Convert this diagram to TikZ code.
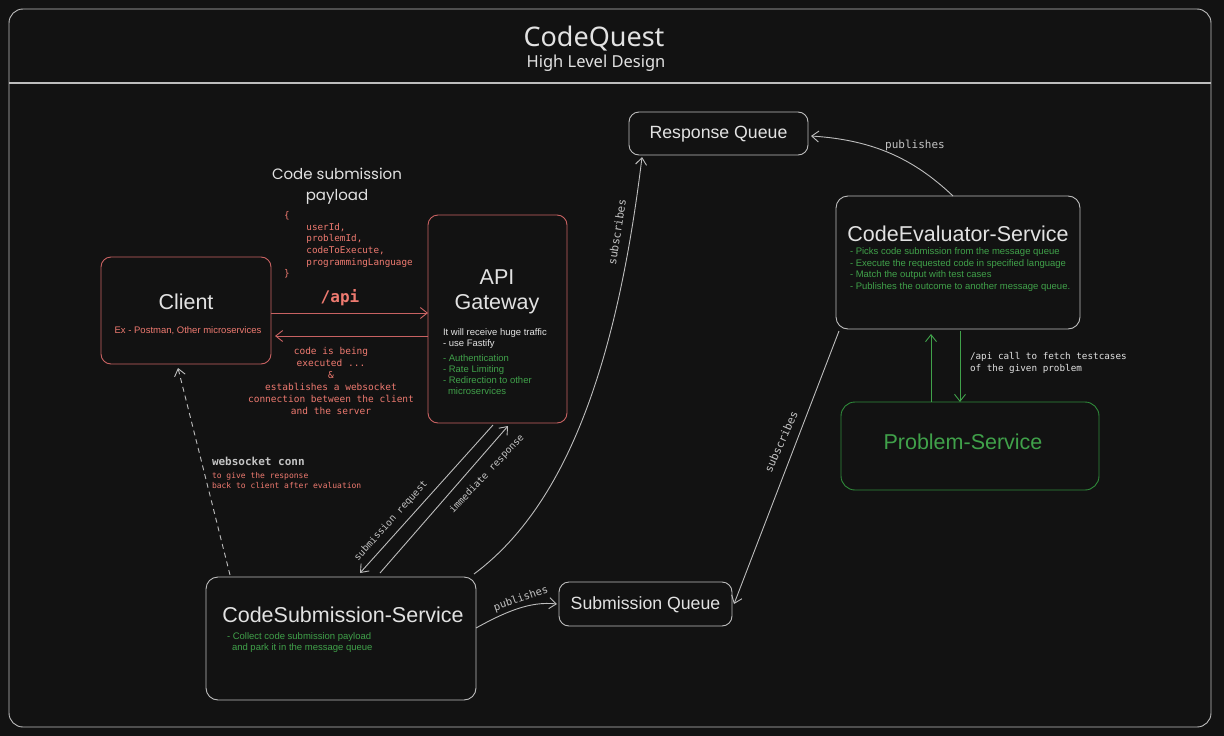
\documentclass[tikz,border=0pt]{standalone}
\usepackage{fontspec}
\setmainfont{Liberation Sans}
\newfontfamily\monof{DejaVu Sans Mono}
\newfontfamily\titlef{Noto Sans}
\newfontfamily\handf{Poppins}
\usetikzlibrary{arrows.meta}
\definecolor{bgc}{HTML}{121212}
\definecolor{gline}{HTML}{BDBDBD}
\definecolor{gtext}{HTML}{E2E2E2}
\definecolor{glab}{HTML}{C4C4C4}
\definecolor{rline}{HTML}{C86262}
\definecolor{rtext}{HTML}{EE7A70}
\definecolor{grn}{HTML}{40A14A}
\definecolor{gline2}{HTML}{2F8A3A}
\begin{document}
\begin{tikzpicture}[x=1pt,y=-1pt,
  every node/.style={inner sep=0pt,outer sep=0pt},
  box/.style={draw=gline,line width=0.9pt,rounded corners=10pt,anchor=center},
  rbox/.style={box,draw=rline},
  pbox/.style={box,draw=gline2,rounded corners=14pt},
  bigt/.style={text=gtext,font=\fontsize{21.5}{25}\selectfont},
  qt/.style={text=gtext,font=\fontsize{17.7}{21}\selectfont},
  smallw/.style={text=gtext,font=\fontsize{9.5}{11}\selectfont,align=left},
  smallg/.style={text=grn,font=\fontsize{9.5}{11.7}\selectfont,align=left},
  redmono/.style={text=rtext,font=\monof\fontsize{9.3}{11.6}\selectfont},
  glabel/.style={text=glab,font=\monof\fontsize{11}{13}\selectfont},
  slabel/.style={text=glab,font=\monof\fontsize{9.6}{12}\selectfont},
  arr/.style={draw=gline,line width=0.9pt,-{Straight Barb[length=7pt,width=11pt]}},
  rarr/.style={arr,draw=rline},
  garr/.style={arr,draw=grn}
]
\useasboundingbox (0,0) rectangle (1224,736);
\fill[bgc] (0,0) rectangle (1224,736);

% frame
\node[box,rounded corners=14pt,minimum width=1202pt,minimum height=718pt] (frame) at (610,368) {};
\draw[gline,line width=1.2pt] (frame.west |- 0,83) -- (frame.east |- 0,83);
\node[text=gtext,font=\titlef\fontsize{27}{30}\selectfont] (title) at (594,38.5) {CodeQuest};
\node[text=gtext,font=\titlef\fontsize{16.5}{19}\selectfont] (subtitle) at (596,63.5) {High Level Design};

% boxes
\node[rbox,minimum width=170pt,minimum height=107pt] (client) at (186,310.5) {};
\node[rbox,minimum width=139pt,minimum height=208pt] (gw) at (497.5,319) {};
\node[box,minimum width=270pt,minimum height=123pt,rounded corners=12pt] (csub) at (341,638.5) {};
\node[box,minimum width=173pt,minimum height=44pt] (sq) at (645.5,604) {};
\node[box,minimum width=179pt,minimum height=43pt] (rq) at (718.5,133.5) {};
\node[box,minimum width=244pt,minimum height=133pt,rounded corners=12pt] (ev) at (958,262.5) {};
\node[pbox,minimum width=258pt,minimum height=88pt] (ps) at (970,446) {};

% box texts
\node[bigt] (clientT) at (186,302) {Client};
\node[text=rtext,font=\fontsize{9.5}{11}\selectfont] (clientS) at (188,331) {Ex - Postman, Other microservices};

\node[bigt,align=center,font=\fontsize{21.5}{25}\selectfont] (gwT) at (497,291.5) {API\\Gateway};
\node[smallw,anchor=west] (gwS) at (443,338.5) {It will receive huge traffic\\- use Fastify};
\node[smallg,font=\fontsize{9.5}{11}\selectfont,anchor=west] (gwG) at (443,374.5) {- Authentication\\- Rate Limiting\\- Redirection to other\\\hspace*{5pt}microservices};

\node[bigt] (csubT) at (343,615) {CodeSubmission-Service};
\node[smallg,font=\fontsize{9.5}{11}\selectfont,anchor=west] (csubG) at (227,642.5) {- Collect code submission payload\\\hspace*{5pt}and park it in the message queue};

\node[qt] (sqT) at (645.5,604.5) {Submission Queue};
\node[qt] (rqT) at (718.5,134.5) {Response Queue};

\node[bigt] (evT) at (958,234) {CodeEvaluator-Service};
\node[smallg,anchor=west] (evG) at (850,269.5) {- Picks code submission from the message queue\\- Execute the requested code in specified language\\- Match the output with test cases\\- Publishes the outcome to another message queue.};

\node[text=grn,font=\fontsize{21.5}{25}\selectfont] (psT) at (963,442) {Problem-Service};

% payload annotation
\node[text=gtext,font=\handf\fontsize{15}{21}\selectfont,align=center] (payT) at (337,186) {Code submission\\payload};
\node[redmono,align=left,anchor=west] (payload) at (284,245) {\{\\\hspace*{22.4pt}userId,\\\hspace*{22.4pt}problemId,\\\hspace*{22.4pt}codeToExecute,\\\hspace*{22.4pt}programmingLanguage\\\}};

% client <-> gateway
\draw[rarr] ([yshift=-2.5pt]client.east) -- ([yshift=6pt]gw.west);
\draw[rarr] ([yshift=-17pt]gw.west) -- ([xshift=4pt,yshift=-25.5pt]client.east);
\node[text=rtext,font=\monof\bfseries\fontsize{16}{18}\selectfont] (apiL) at (340,297.5) {/api};
\node[redmono,font=\monof\fontsize{9.5}{12}\selectfont,align=center] (execL) at (331,381) {code is being\\executed ...\\\&\\establishes a websocket\\connection between the client\\and the server};

% websocket
\draw[arr,dashed,dash pattern=on 5pt off 4pt] ([xshift=-111pt,yshift=2pt]csub.north) -- ([xshift=-8pt,yshift=-4pt]client.south);
\node[text=glab,font=\monof\bfseries\fontsize{11}{13}\selectfont,anchor=west] (wsL) at (212,461) {websocket conn};
\node[text=rtext,font=\monof\fontsize{8}{10}\selectfont,align=left,anchor=west] (wsS) at (212,481) {to give the response\\back to client after evaluation};

% gateway <-> submission service
\draw[arr] ([xshift=-4.5pt,yshift=-2pt]gw.south) -- ([xshift=19pt,yshift=4pt]csub.north);
\draw[arr] ([xshift=39pt,yshift=4pt]csub.north) -- ([xshift=10.5pt,yshift=-3pt]gw.south);
\node[slabel,rotate=48] (srL) at (391,521) {submission request};
\node[slabel,rotate=47] (irL) at (487,474) {immediate response};

% submission service -> response queue
\draw[arr] ([xshift=-2pt,yshift=3pt]csub.north east) .. controls (560,510) and (615,380) .. ([xshift=-76.5pt,yshift=-2pt]rq.south);
\node[glabel,rotate=81] (sub1L) at (617,232) {subscribes};

% submission service -> submission queue
\draw[arr] ([yshift=10.5pt]csub.east) .. controls (505,612) and (530,601) .. ([xshift=-2pt]sq.west);
\node[glabel,font=\monof\fontsize{10.5}{12}\selectfont,rotate=19] (pub1L) at (521,599) {publishes};

% evaluator -> submission queue
\draw[arr] ([xshift=3pt,yshift=-2pt]ev.south west) -- ([xshift=2pt]sq.east);
\node[glabel,rotate=66] (sub2L) at (781,442) {subscribes};

% evaluator -> response queue
\draw[arr] ([xshift=-5pt]ev.north) .. controls (915,160) and (875,140) .. ([xshift=3pt,yshift=-2.5pt]rq.east);
\node[glabel] (pub2L) at (915,145) {publishes};

% evaluator <-> problem service
\draw[garr] ([xshift=-39pt]ps.north) -- ([xshift=-27pt,yshift=-5pt]ev.south);
\draw[garr] ([xshift=2pt,yshift=-2pt]ev.south) -- ([xshift=-10pt]ps.north);
\node[text=gtext,font=\monof\fontsize{9.3}{12}\selectfont,align=left,anchor=west] (psL) at (970,363) {/api call to fetch testcases\\of the given problem};
\end{tikzpicture}
\end{document}
